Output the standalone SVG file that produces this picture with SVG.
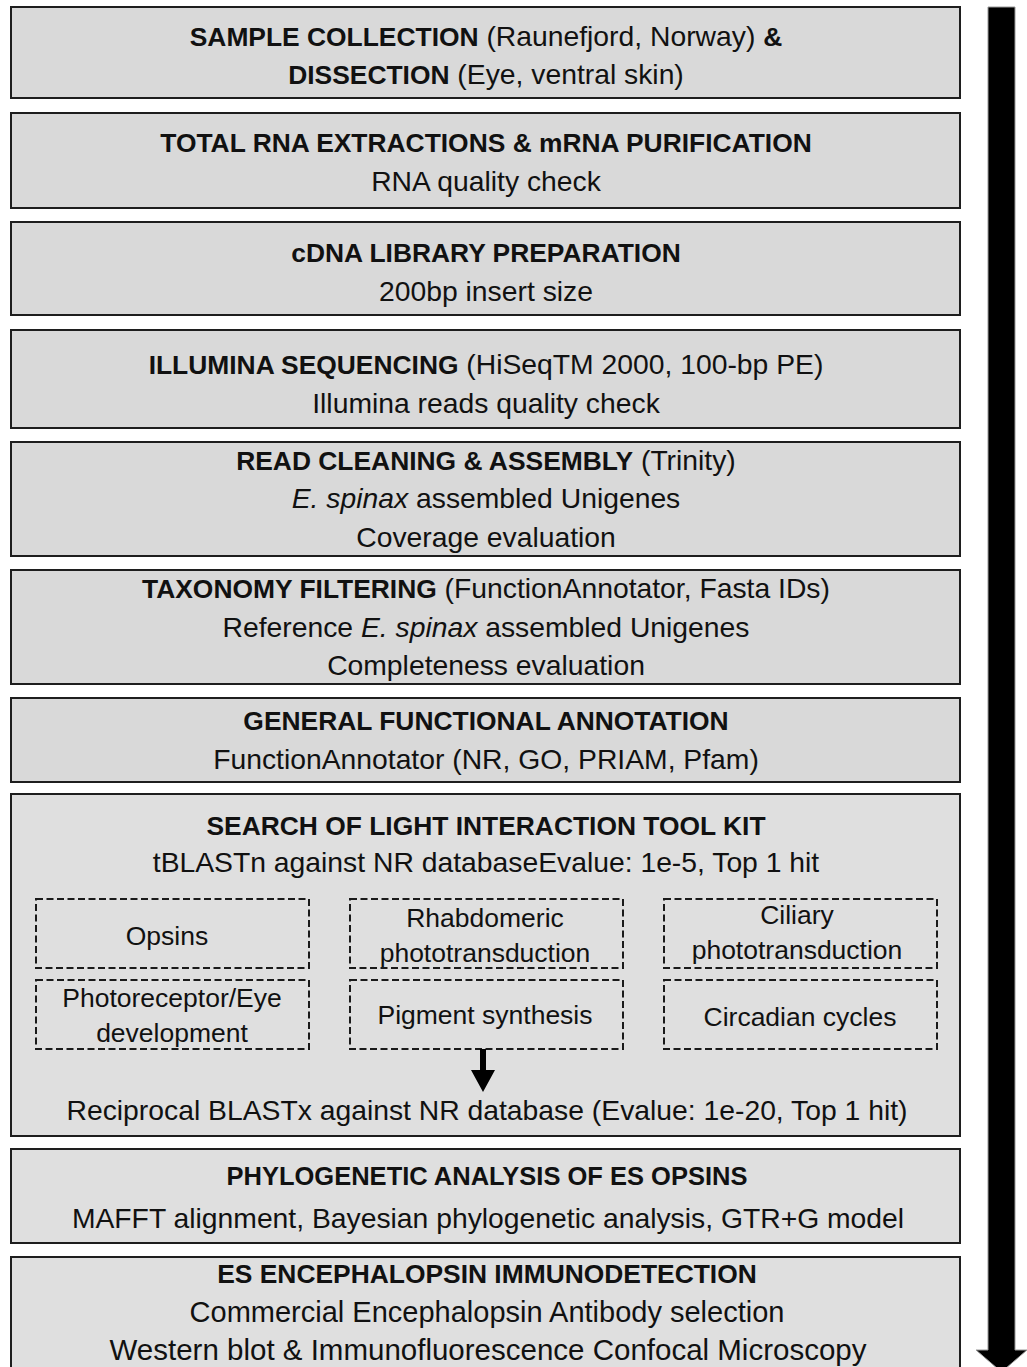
<svg xmlns="http://www.w3.org/2000/svg" width="1027" height="1367" viewBox="0 0 1027 1367">
<style>
.box{fill:#d9d9d9;stroke:#1e1e1e;stroke-width:2}
.boxl{fill:#dfdfdf;stroke:#1e1e1e;stroke-width:2}
.dash{fill:none;stroke:#1a1a1a;stroke-width:2;stroke-dasharray:7 3.5}
text{font-family:"Liberation Sans",Arial,sans-serif;font-size:28.3px;fill:#111;text-anchor:middle}
.s{font-size:26.5px}
.b{font-weight:bold;font-size:26.4px}
.i{font-style:italic}
</style>
<rect width="1027" height="1367" fill="#fff"/>
<g id="n1"><rect class="box" x="11" y="7" width="949" height="91"/>
<text x="486" y="46"><tspan class="b">SAMPLE COLLECTION</tspan> (Raunefjord, Norway) <tspan class="b">&amp;</tspan></text>
<text x="486" y="84"><tspan class="b">DISSECTION</tspan> (Eye, ventral skin)</text></g>
<g id="n2"><rect class="box" x="11" y="113" width="949" height="95"/>
<text x="486" y="152" class="b">TOTAL RNA EXTRACTIONS &amp; mRNA PURIFICATION</text>
<text x="486" y="191">RNA quality check</text></g>
<g id="n3"><rect class="box" x="11" y="222" width="949" height="93"/>
<text x="486" y="262" class="b">cDNA LIBRARY PREPARATION</text>
<text x="486" y="301">200bp insert size</text></g>
<g id="n4"><rect class="box" x="11" y="330" width="949" height="98"/>
<text x="486" y="374"><tspan class="b">ILLUMINA SEQUENCING</tspan> (HiSeqTM 2000, 100-bp PE)</text>
<text x="486" y="413">Illumina reads quality check</text></g>
<g id="n5"><rect class="box" x="11" y="442" width="949" height="114"/>
<text x="486" y="470"><tspan class="b">READ CLEANING &amp; ASSEMBLY</tspan> (Trinity)</text>
<text x="486" y="508"><tspan class="i">E. spinax</tspan> assembled Unigenes</text>
<text x="486" y="547">Coverage evaluation</text></g>
<g id="n6"><rect class="box" x="11" y="570" width="949" height="114"/>
<text x="486" y="598"><tspan class="b">TAXONOMY FILTERING</tspan> (FunctionAnnotator, Fasta IDs)</text>
<text x="486" y="637">Reference <tspan class="i">E. spinax</tspan> assembled Unigenes</text>
<text x="486" y="675">Completeness evaluation</text></g>
<g id="n7"><rect class="box" x="11" y="698" width="949" height="84"/>
<text x="486" y="730" class="b">GENERAL FUNCTIONAL ANNOTATION</text>
<text x="486" y="769">FunctionAnnotator (NR, GO, PRIAM, Pfam)</text></g>
<g id="n8"><rect class="boxl" x="11" y="794" width="949" height="342"/>
<text x="486" y="835" class="b">SEARCH OF LIGHT INTERACTION TOOL KIT</text>
<text x="486" y="872">tBLASTn against NR databaseEvalue: 1e-5, Top 1 hit</text>
<text x="487" y="1120">Reciprocal BLASTx against NR database (Evalue: 1e-20, Top 1 hit)</text></g>
<g id="d1"><rect class="dash" x="36" y="899" width="273" height="69"/><text class="s" x="167" y="945">Opsins</text></g>
<g id="d2"><rect class="dash" x="350" y="899" width="273" height="69"/><text class="s" x="485" y="927">Rhabdomeric</text><text class="s" x="485" y="962">phototransduction</text></g>
<g id="d3"><rect class="dash" x="664" y="899" width="273" height="69"/><text class="s" x="797" y="924">Ciliary</text><text class="s" x="797" y="959">phototransduction</text></g>
<g id="d4"><rect class="dash" x="36" y="980" width="273" height="69"/><text class="s" x="172" y="1007">Photoreceptor/Eye</text><text class="s" x="172" y="1042">development</text></g>
<g id="d5"><rect class="dash" x="350" y="980" width="273" height="69"/><text class="s" x="485" y="1024">Pigment synthesis</text></g>
<g id="d6"><rect class="dash" x="664" y="980" width="273" height="69"/><text class="s" x="800" y="1026">Circadian cycles</text></g>
<g id="n9"><rect class="boxl" x="11" y="1149" width="949" height="94"/>
<text x="487" y="1185" class="b" style="font-size:25.5px">PHYLOGENETIC ANALYSIS OF ES OPSINS</text>
<text x="488" y="1228">MAFFT alignment, Bayesian phylogenetic analysis, GTR+G model</text></g>
<g id="n10"><rect class="boxl" x="11" y="1257" width="949" height="120"/>
<text x="487" y="1283" class="b">ES ENCEPHALOPSIN IMMUNODETECTION</text>
<text x="487" y="1322" style="font-size:29px">Commercial Encephalopsin Antibody selection</text>
<text x="488" y="1360" style="font-size:29.5px">Western blot &amp; Immunofluorescence Confocal Microscopy</text></g>
<g id="connectors">
<polygon points="480,1049 486,1049 486,1070 495,1070 483,1092 471,1070 480,1070" fill="#000"/>
<polygon points="988,7 1015,7 1015,1350 1027,1350 1001.5,1372 976,1350 988,1350" fill="#000" stroke="#999" stroke-width="1"/>
</g>
</svg>
